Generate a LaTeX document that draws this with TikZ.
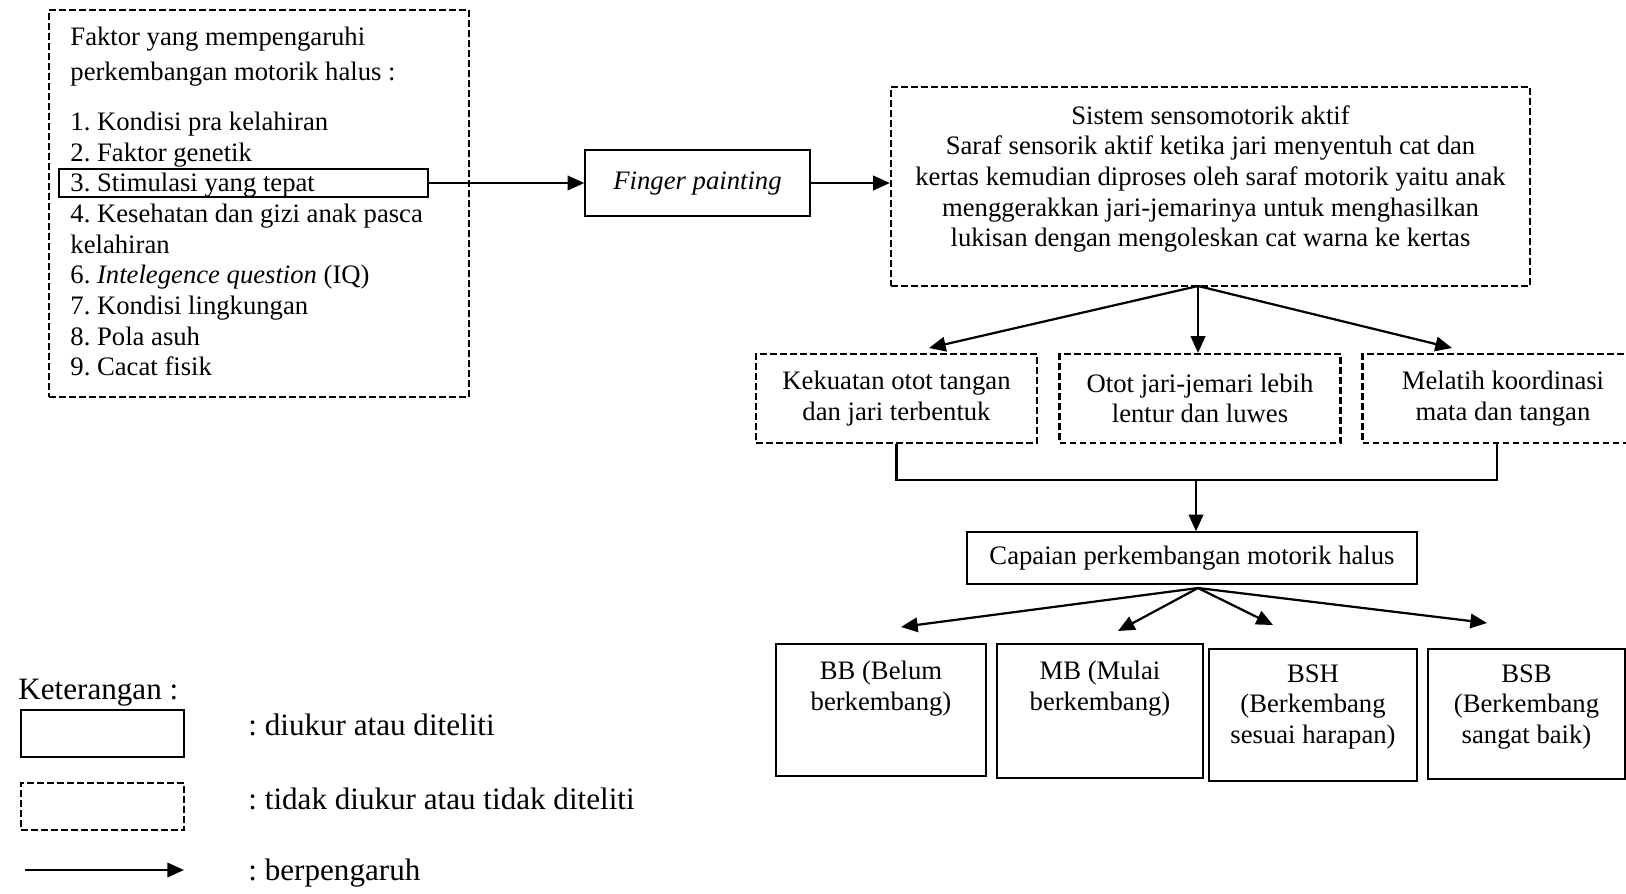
\documentclass[tikz,border=0pt]{standalone}
\usepackage{fontspec}
\setmainfont{Liberation Serif}
\usetikzlibrary{arrows.meta}
\frenchspacing

\begin{document}
\begin{tikzpicture}[x=.45pt,y=-.45pt,
    teks/.style={font=\fontsize{12}{13.8}\selectfont,inner sep=0pt},
    besar/.style={font=\fontsize{14}{16}\selectfont,inner sep=0pt},
    kotak/.style={draw,line width=.6pt,inner sep=0pt},
    putus/.style={draw,line width=1pt,dash pattern=on 3pt off 1.5pt,inner sep=0pt},
    garis/.style={line width=1pt},
    panah/.style={line width=1pt,-{Triangle[length=7.5pt,width=6.5pt]}}]
  \useasboundingbox(0,0)rectangle(1626,893);

  % faktor yang mempengaruhi
  \node[putus,minimum width=189pt,minimum height=174.15pt](faktor)at(259,203.5){};
  \foreach \y/\t [count=\i] in {45/Faktor yang mempengaruhi,80/perkembangan motorik halus :,
      130.3/1. Kondisi pra kelahiran,161/2. Faktor genetik,191.7/3. Stimulasi yang tepat,
      222.4/4. Kesehatan dan gizi anak pasca,253.1/kelahiran,283.8/6. \textit{Intelegence question} (IQ),
      314.5/7. Kondisi lingkungan,345.2/8. Pola asuh,375.9/9. Cacat fisik}{
    \node[teks,anchor=base west](f\i)at(70,\y){\t};
  }
  \node[kotak,minimum width=166.05pt,minimum height=12.6pt](stim)at(243.5,183){};

  \node[kotak,teks,draw,minimum width=101.25pt,minimum height=29.7pt](finger)at(697.5,183){\textit{Finger painting}};

  \node[putus,minimum width=287.55pt,minimum height=89.55pt](sistem)at(1210.5,186.5){};
  \node[teks,align=center,anchor=north](sistemteks)at(1210.5,105){Sistem sensomotorik aktif\\
    Saraf sensorik aktif ketika jari menyentuh cat dan\\
    kertas kemudian diproses oleh saraf motorik yaitu anak\\
    menggerakkan jari-jemarinya untuk menghasilkan\\
    lukisan dengan mengoleskan cat warna ke kertas};

  \draw[panah](stim.east)--(finger.west);
  \draw[panah](finger.east)--(finger.east-|sistem.west);

  % manfaat
  \foreach \n/\x/\t in {k1/896.5/{Kekuatan otot tangan\\dan jari terbentuk},
      k2/1200/{Otot jari-jemari lebih\\lentur dan luwes},
      k3/1503/{Melatih koordinasi\\mata dan tangan}}{
    \node[putus,teks,draw,align=center,minimum width=126.45pt,minimum height=40.05pt](\n)at(\x,398.5){\t};
  }
  \coordinate(sbawah)at(1198,286);\coordinate(k1in)at(929,348);\coordinate(k3in)at(1452,348);
  \draw[panah](sbawah)--(k1in);
  \draw[panah](sbawah)--(sbawah|-k2.north);
  \draw[panah](sbawah)--(k3in);

  \coordinate(kumpul)at(1196,480);
  \draw[garis](k1.south)|-(kumpul)-|(1497,443);
  \node[kotak,teks,draw,minimum width=202.5pt,minimum height=23.4pt](capaian)at(1192,558){Capaian perkembangan motorik halus};
  \draw[panah](kumpul)--(kumpul|-capaian.north);

  % kategori capaian
  \foreach \n/\x/\y/\w/\h/\ty/\t in {bb/881/710/94.5pt/59.4pt/661/{BB (Belum\\berkembang)},
      mb/1100/711/92.7pt/60.3pt/661/{MB (Mulai\\berkembang)},
      bsh/1313/715/93.6pt/59.4pt/664/{BSH\\(Berkembang\\sesuai harapan)},
      bsb/1526.5/714/88.65pt/58.5pt/664/{BSB\\(Berkembang\\sangat baik)}}{
    \node[kotak,minimum width=\w,minimum height=\h](\n)at(\x,\y){};
    \node[teks,align=center,anchor=north](t\n)at(\x,\ty){\t};
  }
  \coordinate(cbawah)at(1198,588);
  \coordinate(bbin)at(901,627);\coordinate(mbin)at(1118,631);
  \coordinate(bshin)at(1273,625);\coordinate(bsbin)at(1487,623);
  \foreach \c in {bbin,mbin,bshin,bsbin}
    \draw[panah](cbawah)--(\c);

  % keterangan
  \node[besar,anchor=base west](ket)at(18,699){Keterangan :};
  \node[kotak,line width=1pt,minimum width=73.35pt,minimum height=21.15pt](lg1)at(102.5,733.5){};
  \node[putus,minimum width=73.35pt,minimum height=21.15pt](lg2)at(102.5,806.5){};
  \coordinate(la)at(25,870);\coordinate(lb)at(184,870);
  \draw[panah](la)--(lb);
  \node[besar,anchor=base west](lt1)at(248,735){: diukur atau diteliti};
  \node[besar,anchor=base west](lt2)at(248,809){: tidak diukur atau tidak diteliti};
  \node[besar,anchor=base west](lt3)at(248,880){: berpengaruh};
\end{tikzpicture}
\end{document}
